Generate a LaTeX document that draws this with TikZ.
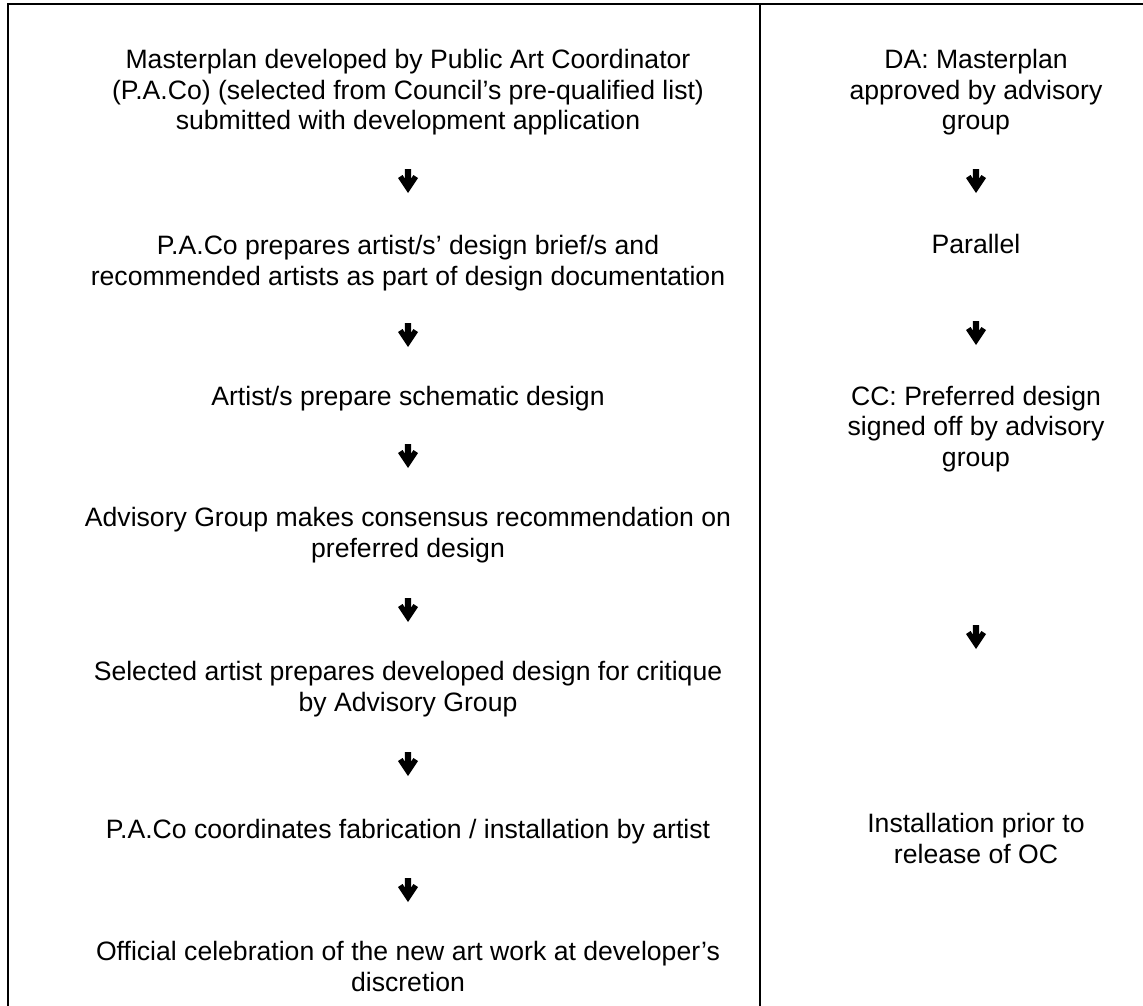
\documentclass[tikz,border=0pt]{standalone}
\usepackage{fontspec}
\setmainfont{Liberation Sans}
\begin{document}
\begin{tikzpicture}[x=1pt,y=-1pt,
  txt/.style={font=\fontsize{26.6}{30.5}\selectfont, align=center, inner sep=0pt, anchor=base},
  rule/.style={line width=2pt, black},
  darrow/.style={minimum width=22pt, minimum height=26pt, inner sep=0pt,
    path picture={\fill[black, shift={(path picture bounding box.center)}]
      (-3.2,-12) -- (3.2,-12) -- (3.2,-2.4) -- (5.4,-6) -- (10,-3) -- (0,12)
      -- (-10,-3) -- (-5.4,-6) -- (-3.2,-2.4) -- cycle;}}]
\useasboundingbox (0,0) rectangle (1143,1006);
% table rules
\draw[rule] (7.5,1006) -- (7.5,4) -- (1143,4);
\draw[rule] (760,4) -- (760,1006);
% left column (anchor = baseline of last line)
\node[txt] (l1) at (408,130) {Masterplan developed by Public Art Coordinator\\(P.A.Co) (selected from Council’s pre-qualified list)\\submitted with development application};
\node[darrow] (la1) at (408,181) {};
\node[txt] (l2) at (408,285) {P.A.Co prepares artist/s’ design brief/s and\\recommended artists as part of design documentation};
\node[darrow] (la2) at (408,335) {};
\node[txt] (l3) at (408,405) {Artist/s prepare schematic design};
\node[darrow] (la3) at (408,456) {};
\node[txt] (l4) at (408,557) {Advisory Group makes consensus recommendation on\\preferred design};
\node[darrow] (la4) at (408,610) {};
\node[txt] (l5) at (408,711) {Selected artist prepares developed design for critique\\by Advisory Group};
\node[darrow] (la5) at (408,764) {};
\node[txt] (l6) at (408,838) {P.A.Co coordinates fabrication / installation by artist};
\node[darrow] (la6) at (408,890) {};
\node[txt] (l7) at (408,991) {Official celebration of the new art work at developer’s\\discretion};
% right column
\node[txt] (r1) at (976,130) {DA: Masterplan\\approved by advisory\\group};
\node[darrow] (ra1) at (976,181) {};
\node[txt] (r2) at (976,253) {Parallel};
\node[darrow] (ra2) at (976,333) {};
\node[txt] (r3) at (976,466) {CC: Preferred design\\signed off by advisory\\group};
\node[darrow] (ra3) at (976,637) {};
\node[txt] (r4) at (976,863) {Installation prior to\\release of OC};
\end{tikzpicture}
\end{document}
